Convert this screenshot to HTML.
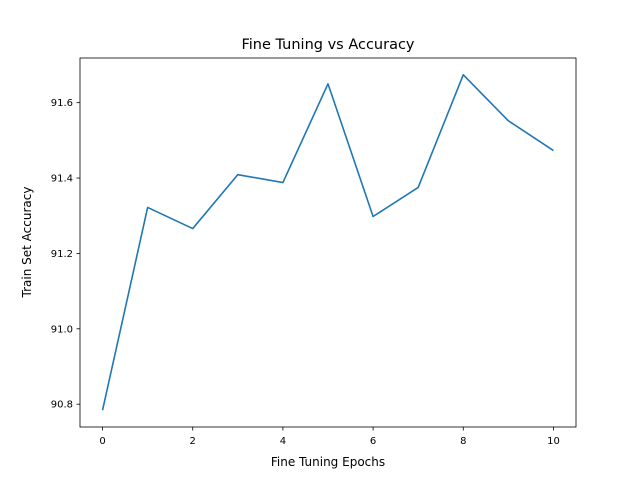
<!DOCTYPE html>
<html><head><meta charset="utf-8"><style>
body{margin:0;background:#fff;}
svg text{font-family:"DejaVu Sans","Liberation Sans",sans-serif;fill:#000;}
</style></head><body>
<svg id="chart" width="640" height="480" xmlns="http://www.w3.org/2000/svg">
<rect width="640" height="480" fill="#fff"/>
<text x="328" y="49" font-size="14.5" text-anchor="middle">Fine Tuning vs Accuracy</text>
<text x="328" y="466" font-size="12" text-anchor="middle">Fine Tuning Epochs</text>
<text transform="translate(31,242) rotate(-90)" font-size="12" text-anchor="middle">Train Set Accuracy</text>
<g id="xticks"></g>
<g id="yticks"></g>
<path id="line" fill="none" stroke="#1f77b4" stroke-width="1.6" stroke-linejoin="round"/>
<rect x="80" y="58" width="496" height="369" fill="none" stroke="#000" stroke-width="0.8"/>
</svg>
<script>
const epochs = [0,1,2,3,4,5,6,7,8,9,10];
const accuracy = [90.784,91.322,91.266,91.409,91.388,91.650,91.298,91.375,91.674,91.552,91.473];
const xTickLabels = ["0","2","4","6","8","10"];
const yTickLabels = ["90.8","91.0","91.2","91.4","91.6"];

const L=80,R=576,T=58,B=427;
const xmin=-0.5,xmax=10.5;
const dmin=Math.min(...accuracy),dmax=Math.max(...accuracy),pad=(dmax-dmin)*0.05;
const ymin=dmin-pad,ymax=dmax+pad;
const sx=v=>L+(v-xmin)/(xmax-xmin)*(R-L);
const sy=v=>B-(v-ymin)/(ymax-ymin)*(B-T);
const NS="http://www.w3.org/2000/svg";
const xg=document.getElementById('xticks'),yg=document.getElementById('yticks');
xTickLabels.forEach(t=>{
  const x=sx(parseFloat(t));
  const l=document.createElementNS(NS,'line');
  l.setAttribute('x1',x);l.setAttribute('x2',x);l.setAttribute('y1',B);l.setAttribute('y2',B+3.5);
  l.setAttribute('stroke','#000');l.setAttribute('stroke-width','0.8');
  
  
  xg.appendChild(l);
  const tx=document.createElementNS(NS,'text');
  tx.setAttribute('x',x);tx.setAttribute('y',B+17);tx.setAttribute('font-size','10');tx.setAttribute('text-anchor','middle');
  tx.textContent=t;
  
  
  xg.appendChild(tx);
});
yTickLabels.forEach(t=>{
  const y=sy(parseFloat(t));
  const l=document.createElementNS(NS,'line');
  l.setAttribute('x1',L-3.5);l.setAttribute('x2',L);l.setAttribute('y1',y);l.setAttribute('y2',y);
  l.setAttribute('stroke','#000');l.setAttribute('stroke-width','0.8');
  
  
  yg.appendChild(l);
  const tx=document.createElementNS(NS,'text');
  tx.setAttribute('x',L-7);tx.setAttribute('y',y+3.5);tx.setAttribute('font-size','10');tx.setAttribute('text-anchor','end');
  tx.textContent=t;
  
  
  yg.appendChild(tx);
});
document.getElementById('line').setAttribute('d',epochs.map((e,i)=>(i?'L':'M')+sx(e).toFixed(2)+','+sy(accuracy[i]).toFixed(2)).join(' '));
</script>
</body></html>
